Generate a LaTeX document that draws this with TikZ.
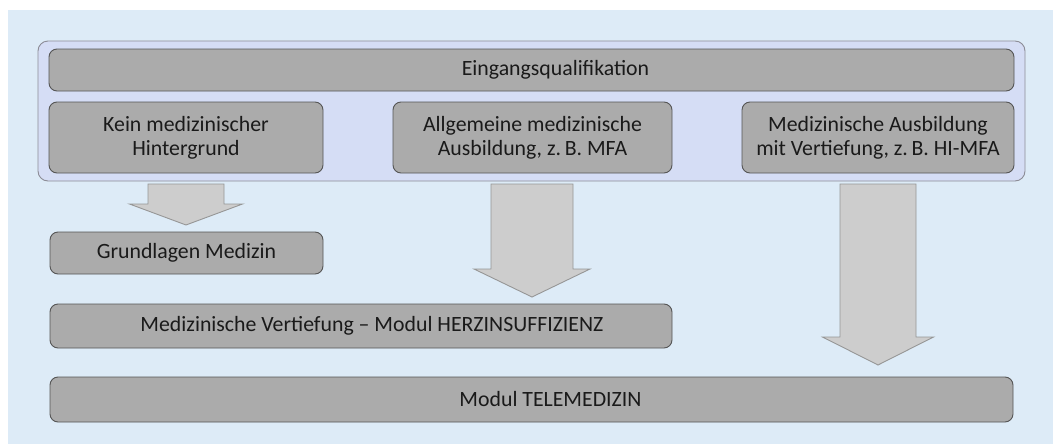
\documentclass[tikz,border=0pt]{standalone}
\usepackage{fontspec}
\setmainfont{Carlito}
\definecolor{bgblue}{HTML}{DDEBF7}
\definecolor{outerfill}{HTML}{D5DDF5}
\definecolor{outerline}{HTML}{8C8C96}
\definecolor{boxfill}{HTML}{ABABAB}
\definecolor{boxline}{HTML}{555555}
\definecolor{arrfill}{HTML}{CDCDCD}
\definecolor{arrline}{HTML}{969696}
\definecolor{txt}{HTML}{1A1A1A}
\tikzset{
  graybox/.style={draw=boxline, fill=boxfill, line width=0.9pt, rounded corners=8pt,
    inner sep=0pt, align=center, text=txt, font=\fontsize{21.8}{24}\selectfont},
  blockarr/.style={draw=arrline, fill=arrfill, line width=0.9pt},
}
\newcommand{\blockarrow}[6]{% cx, top, base, tip, half shaft, half head
  \draw[blockarr] ({#1-#5},#2) -- ({#1+#5},#2) -- ({#1+#5},#3) -- ({#1+#6},#3)
    -- (#1,#4) -- ({#1-#6},#3) -- ({#1-#5},#3) -- cycle;}
\begin{document}
\begin{tikzpicture}[x=1pt,y=-1pt]
\useasboundingbox (0,0) rectangle (1053,445);
\fill[bgblue] (8,10) rectangle (1053,444);
\draw[draw=outerline, fill=outerfill, line width=0.9pt, rounded corners=10pt] (38,41) rectangle (1025,181);
\node[graybox, minimum width=965pt, minimum height=42pt] (eq) at (531.5,70) {\hspace*{48pt}Eingangsqualifikation};
\node[graybox, minimum width=274pt, minimum height=71pt] (k1) at (186,137.5) {Kein medizinischer\\Hintergrund};
\node[graybox, minimum width=279pt, minimum height=71pt] (k2) at (532.5,137.5) {Allgemeine medizinische\\Ausbildung, z.\,B. MFA};
\node[graybox, minimum width=272pt, minimum height=71pt] (k3) at (878,137.5) {Medizinische Ausbildung\\mit Vertiefung, z.\,B. HI-MFA};
\node[graybox, minimum width=273pt, minimum height=42pt] (gm) at (186.5,253) {Grundlagen Medizin};
\node[graybox, minimum width=622pt, minimum height=44pt] (mv) at (361,326) {\hspace*{22pt}Medizinische Vertiefung – Modul HERZINSUFFIZIENZ};
\node[graybox, minimum width=963pt, minimum height=45pt] (tm) at (531.5,399.5) {\hspace*{38pt}Modul TELEMEDIZIN};
\blockarrow{186}{184}{204}{225}{38}{56.5}
\blockarrow{532}{184}{269}{297}{41}{58}
\blockarrow{878}{184}{337}{365}{38}{55.5}
\end{tikzpicture}
\end{document}
